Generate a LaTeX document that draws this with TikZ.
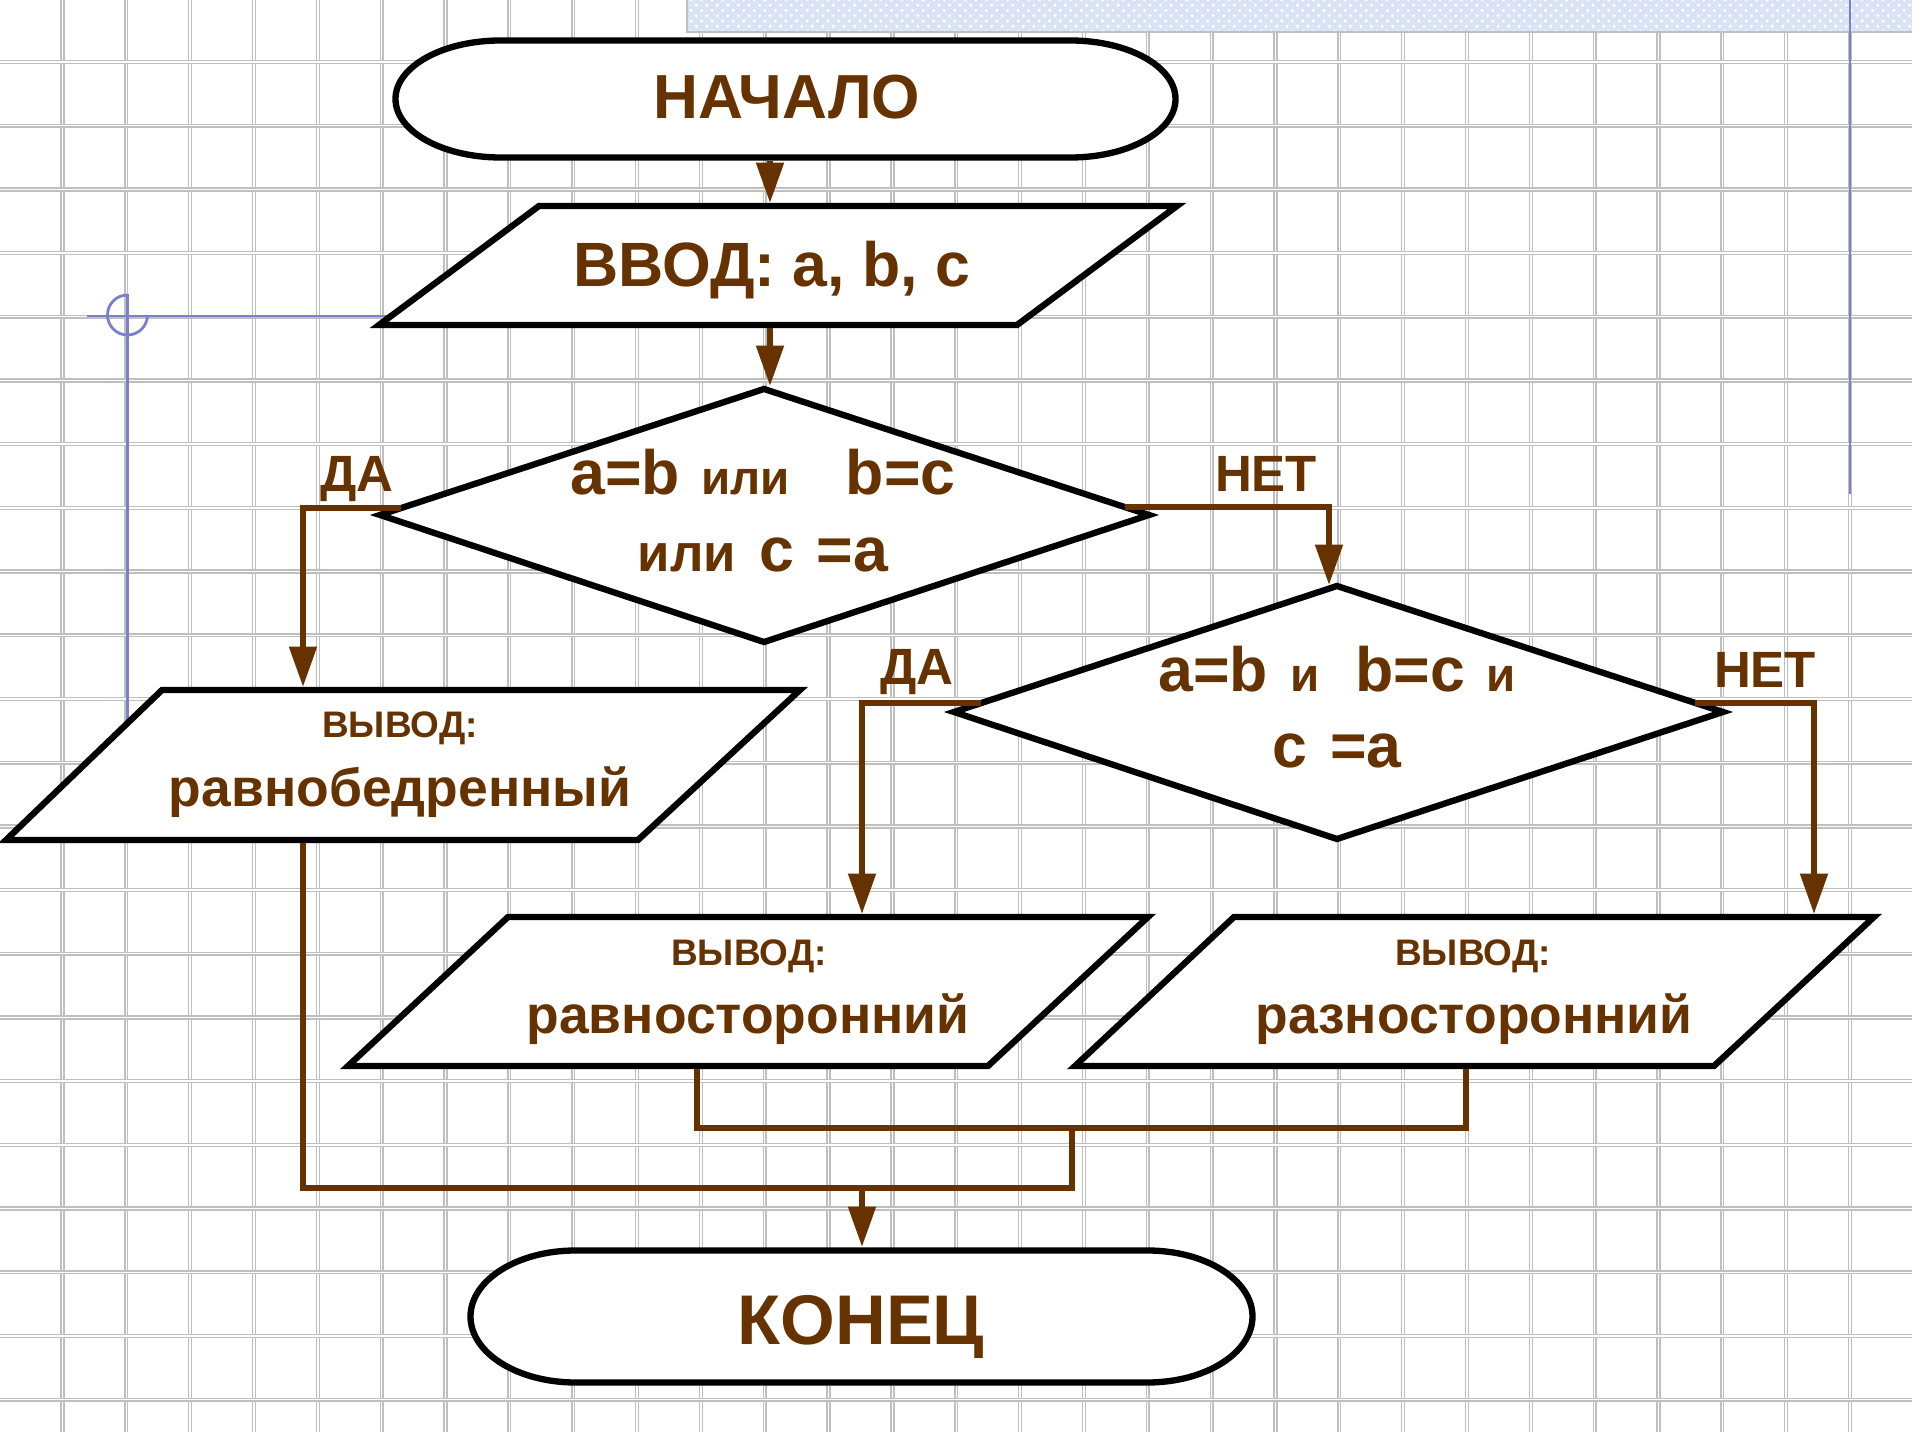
\documentclass[tikz,border=0pt]{standalone}
\usepackage{fontspec}
\setmainfont{Liberation Sans}
\usetikzlibrary{arrows.meta,patterns}
\definecolor{brn}{RGB}{102,51,0}
\definecolor{bluel}{RGB}{122,128,204}
\definecolor{bandc}{RGB}{218,226,245}
\newcommand\fsz[1]{\fontsize{#1}{#1}\selectfont}
\begin{document}
\begin{tikzpicture}[x=0.01cm,y=-0.01cm,
  gridline/.style={draw=gray!50, double=white, double distance=0.4pt, line width=0.4pt},
  shp/.style={draw=black, line width=1.8pt, fill=white, line join=miter},
  conn/.style={draw=brn, line width=1.7pt, line join=miter},
  arr/.style={conn, -{Triangle[length=11.5pt,width=7.6pt]}},
  txt/.style={text=brn, font=\bfseries, anchor=base, inner sep=0pt},
  bl/.style={draw=bluel, line width=0.8pt}]
\useasboundingbox (0,0) rectangle (1920,1440);
\fill[white] (0,0) rectangle (1920,1440);
% grid
\foreach \k in {0,...,28} {
  \pgfmathsetmacro\gx{62.5+63.84*\k}
  \pgfmathsetmacro\gt{\gx<687 ? 0 : 32}
  \draw[gridline] (\gx,\gt) -- (\gx,1432);
}
\foreach \j in {0,...,21} {
  \pgfmathsetmacro\gy{62+63.7*\j}
  \draw[gridline] (0,\gy) -- (1912,\gy);
}
% top band
\fill[bandc] (687,0) rectangle (1912,32);
\fill[pattern=crosshatch dots, pattern color=white] (687,0) rectangle (1912,32);
\draw[gray!50, line width=0.5pt] (687,0) -- (687,32) -- (1912,32);
% blue guide lines
\draw[bl] (87,316) -- (420,316);
\draw[bl] (127.5,294) -- (127.5,760);
\draw[bl] (127.5,315) ++(0cm,0.2cm) arc[start angle=90, end angle=360, radius=0.2cm];
\draw[bl] (1850,0) -- (1850,494);
% shapes
\draw[shp] (500.5,40.5) -- (1070.5,40.5) .. controls (1128.5,40.5) and (1175.5,66.7) .. (1175.5,99) .. controls (1175.5,131.3) and (1128.5,157.5) .. (1070.5,157.5) -- (500.5,157.5) .. controls (442.5,157.5) and (395.5,131.3) .. (395.5,99) .. controls (395.5,66.7) and (442.5,40.5) .. cycle;
\draw[shp] (539,206) -- (1177,206) -- (1017,325) -- (379,325) -- cycle;
\draw[shp] (764,389) -- (1149,515) -- (764,642) -- (380,515) -- cycle;
\draw[shp] (1337,586) -- (1723,712) -- (1337,839) -- (954,712) -- cycle;
\draw[shp] (162,690) -- (800,690) -- (638,840) -- (6,840) -- cycle;
\draw[shp] (508,917) -- (1148,917) -- (988,1066) -- (348,1066) -- cycle;
\draw[shp] (1234,917) -- (1874,917) -- (1714,1066) -- (1075,1066) -- cycle;
\draw[shp] (575.5,1250.5) -- (1147.5,1250.5) .. controls (1205.5,1250.5) and (1252.5,1280) .. (1252.5,1316.5) .. controls (1252.5,1353) and (1205.5,1382.5) .. (1147.5,1382.5) -- (575.5,1382.5) .. controls (517.5,1382.5) and (470.5,1353) .. (470.5,1316.5) .. controls (470.5,1280) and (517.5,1250.5) .. cycle;
% texts
\node[txt] (start) at (787,119) {\fsz{17.7}НАЧАЛО};
\node[txt] (input) at (772,287) {\fsz{17.8}ВВОД: a, b, c};
\node[txt] (c1a) at (763,495) {\fsz{17.8}a=b\hspace{6pt}\fsz{13.5}или\hspace{16pt}\fsz{17.8}b=c};
\node[txt] (c1b) at (763,572) {\fsz{15}или\hspace{6.5pt}\fsz{17.8}c\hspace{6.5pt}=a};
\node[txt] (c2a) at (1337,692) {\fsz{17.8}a=b\hspace{6.3pt}\fsz{13.5}и\hspace{10.3pt}\fsz{17.8}b=c\hspace{6pt}\fsz{13.5}и};
\node[txt] (c2b) at (1337,768) {\fsz{17.8}c\hspace{6.5pt}=a};
\node[txt] (yes1) at (357,492) {\fsz{14.5}ДА};
\node[txt] (no1) at (1266,492) {\fsz{14.5}НЕТ};
\node[txt] (yes2) at (917,685) {\fsz{14.5}ДА};
\node[txt] (no2) at (1765,688) {\fsz{14.5}НЕТ};
\node[txt] (o1a) at (400,738) {\fsz{10.5}ВЫВОД:};
\node[txt] (o1b) at (400,807) {\fsz{15.2}равнобедренный};
\node[txt] (o2a) at (749,966) {\fsz{10.5}ВЫВОД:};
\node[txt] (o2b) at (748,1034) {\fsz{15.2}равносторонний};
\node[txt] (o3a) at (1473,966) {\fsz{10.5}ВЫВОД:};
\node[txt] (o3b) at (1474,1034) {\fsz{15.2}разносторонний};
\node[txt] (finish) at (861,1344) {\fsz{20}КОНЕЦ};
% connection points
\coordinate (start-s) at (770,161);
\coordinate (input-n) at (770,203);
\coordinate (input-s) at (770,328);
\coordinate (d1-n) at (770,386);
\coordinate (d1-yes) at (401,508);
\coordinate (d1-no) at (1125,507);
\coordinate (out1-n) at (303,687);
\coordinate (d2-n) at (1329,585);
\coordinate (d2-yes) at (981,703);
\coordinate (d2-no) at (1695,703);
\coordinate (out2-n) at (862,914);
\coordinate (out3-n) at (1814,914);
\coordinate (out1-s) at (303,843);
\coordinate (out2-s) at (697,1069);
\coordinate (out3-s) at (1466,1069);
\coordinate (join1) at (1072,1128);
\coordinate (join2) at (1072,1188);
\coordinate (merge) at (862,1188);
\coordinate (finish-n) at (862,1247);
% connectors
\draw[arr] (start-s) -- (input-n);
\draw[arr] (input-s) -- (d1-n);
\draw[arr] (d1-yes) -| (out1-n);
\draw[arr] (d1-no) -| (d2-n);
\draw[arr] (d2-yes) -| (out2-n);
\draw[arr] (d2-no) -| (out3-n);
\draw[conn] (out1-s) |- (join2) -- (join1);
\draw[conn] (out2-s) |- (join1) -| (out3-s);
\draw[arr] (merge) -- (finish-n);
\end{tikzpicture}
\end{document}
